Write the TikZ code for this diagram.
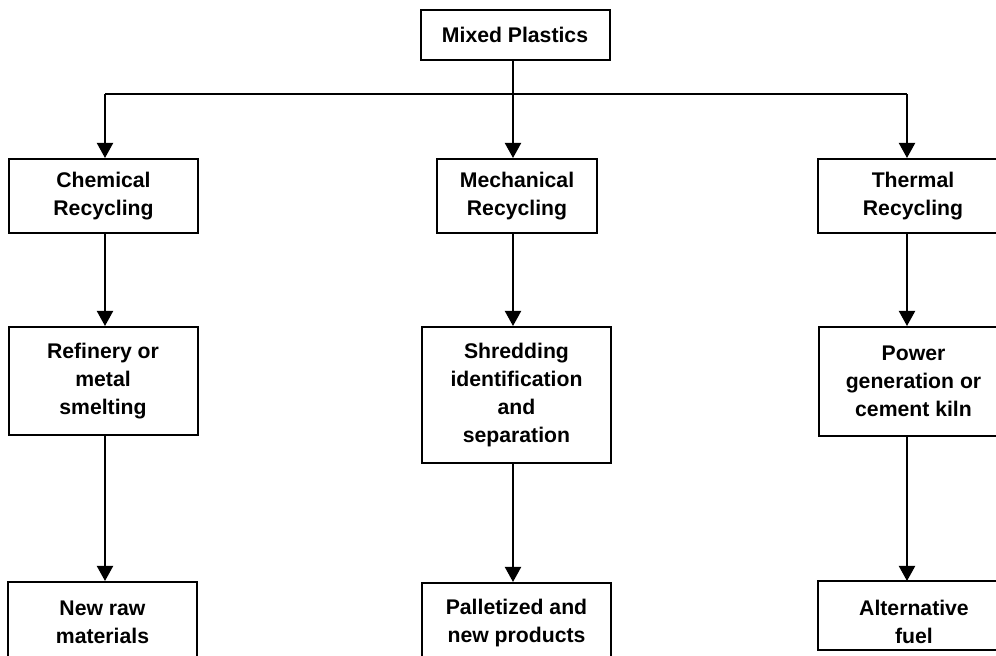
\documentclass[tikz,border=0pt]{standalone}
\usepackage{fontspec}
\setmainfont{Liberation Sans}
\usetikzlibrary{arrows.meta}
\tikzset{
  box/.style={draw, line width=1pt, align=center, inner sep=0pt,
    font=\bfseries\fontsize{10.6}{14}\selectfont},
  arr/.style={line width=1pt, -{Triangle[length=7.5pt,width=8pt]}},
}
\begin{document}
\begin{tikzpicture}[x=0.5pt,y=-0.5pt]
\useasboundingbox (0,0) rectangle (996,656);
\clip (0,0) rectangle (996,656);
% top box and branch line
\node[box, minimum width=94.5pt, minimum height=25pt] (mixed) at (515,35) {Mixed Plastics};
\coordinate (tj) at (513,94);
\coordinate (jl) at (105,94);
\coordinate (jr) at (907,94);
% first row
\node[box, minimum width=94.5pt, minimum height=37pt] (chem) at (103.5,196) {Chemical\\Recycling};
\node[box, minimum width=80pt, minimum height=37pt] (mech) at (517,196) {Mechanical\\Recycling};
\node[box, minimum width=95pt, minimum height=37pt] (therm) at (913,196) {Thermal\\Recycling};
% second row
\node[box, minimum width=94.5pt, minimum height=54pt] (refin) at (103,381) {Refinery or\\metal\\smelting};
\node[box, minimum width=94.5pt, minimum height=68pt] (shred) at (516.5,395) {Shredding\\identification\\and\\separation};
\node[box, minimum width=95pt, minimum height=54.5pt] (power) at (913.5,381.5) {Power\\generation or\\cement kiln};
% third row
\node[box, minimum width=94.5pt, minimum height=40pt] (newraw) at (102.5,622) {New raw\\materials};
\node[box, minimum width=94.5pt, minimum height=40pt] (pallet) at (516.5,623) {Palletized and\\new products};
\node[box, draw=none, minimum width=95pt, minimum height=40pt] (altfuel) at (914,622) {Alternative\\fuel};
\draw[line width=1pt] (altfuel.north west) rectangle ([yshift=6.5pt]altfuel.south east);
% connectors
\draw[line width=1pt] (tj |- mixed.south) -- (tj);
\draw[line width=1pt] (jl) -- (jr);
\draw[arr] (jl) -- (jl |- chem.north);
\draw[arr] (tj) -- (tj |- mech.north);
\draw[arr] (jr) -- (jr |- therm.north);
\draw[arr] (jl |- chem.south) -- (jl |- refin.north);
\draw[arr] (tj |- mech.south) -- (tj |- shred.north);
\draw[arr] (jr |- therm.south) -- (jr |- power.north);
\draw[arr] (jl |- refin.south) -- (jl |- newraw.north);
\draw[arr] (tj |- shred.south) -- (tj |- pallet.north);
\draw[arr] (jr |- power.south) -- (jr |- altfuel.north);
\end{tikzpicture}
\end{document}
